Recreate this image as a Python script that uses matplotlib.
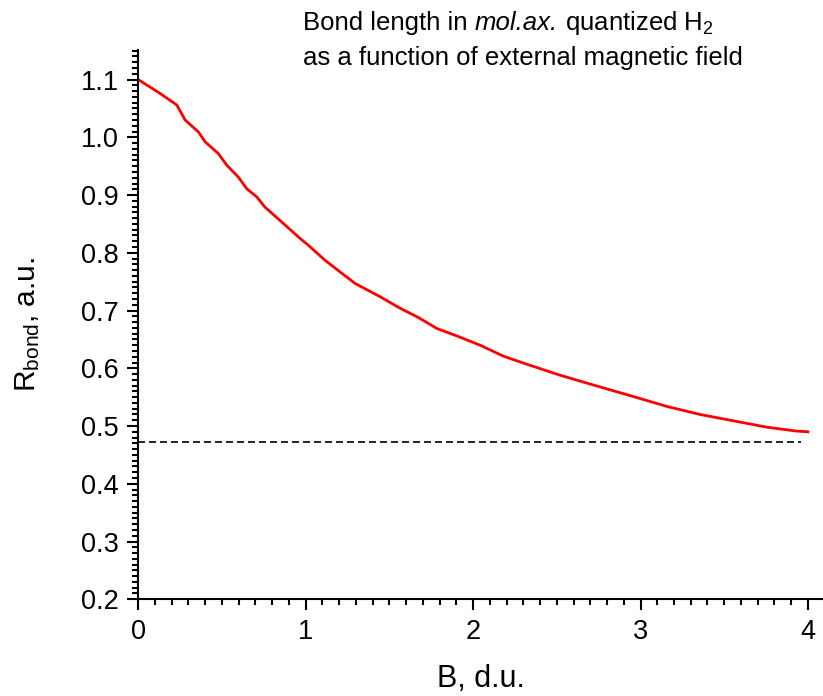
import numpy as np
import matplotlib.pyplot as plt
from matplotlib.ticker import MultipleLocator

plt.rcParams['font.family'] = ['Liberation Sans', 'DejaVu Sans']
plt.rcParams['mathtext.fontset'] = 'custom'
plt.rcParams['mathtext.rm'] = 'Liberation Sans'
plt.rcParams['mathtext.it'] = 'Liberation Sans:italic'

# Bond length vs. magnetic field
B = [0.0, 0.13, 0.23, 0.28, 0.36, 0.40, 0.478, 0.528, 0.598, 0.648, 0.707,
     0.757, 0.866, 0.966, 1.016, 1.116, 1.205, 1.295, 1.444, 1.564, 1.673,
     1.783, 1.903, 2.042, 2.181, 2.321, 2.52, 2.719, 2.958, 3.157, 3.356,
     3.555, 3.755, 3.924, 4.0]
R_bond = [1.100, 1.076, 1.056, 1.030, 1.009, 0.992, 0.972, 0.952, 0.931, 0.911, 0.897,
          0.879, 0.851, 0.825, 0.813, 0.787, 0.767, 0.747, 0.724, 0.704, 0.688,
          0.669, 0.656, 0.640, 0.621, 0.607, 0.588, 0.571, 0.551, 0.534, 0.520,
          0.509, 0.498, 0.4915, 0.490]
R_limit = 0.472
B_limit_end = 3.96

fig = plt.figure(figsize=(8.23, 6.96), dpi=100)
ax = fig.add_axes([0.168, 0.139, 0.832, 0.789])

ax.plot(B, R_bond, color='red', lw=2.0)
ax.plot([0, B_limit_end], [R_limit, R_limit], color='black', lw=1.2, dashes=(4.2, 2.4))

ax.set_xlim(0, 4.09)
ax.set_ylim(0.2, 1.151)
ax.xaxis.set_major_locator(MultipleLocator(1))
ax.xaxis.set_minor_locator(MultipleLocator(0.1))
ax.yaxis.set_major_locator(MultipleLocator(0.1))
ax.yaxis.set_minor_locator(MultipleLocator(0.01))
ax.yaxis.set_major_formatter(plt.FormatStrFormatter('%.1f'))

for s in ['top', 'right']:
    ax.spines[s].set_visible(False)
for s in ['left', 'bottom']:
    ax.spines[s].set_linewidth(1.5)
ax.tick_params(which='major', length=8, width=1.5, labelsize=19.5, pad=6)
ax.tick_params(which='minor', length=4, width=1.5)

ax.set_xlabel('B, d.u.', fontsize=22, labelpad=14)
ax.set_ylabel(r'R$_{\mathrm{bond}}$, a.u.', fontsize=21.5, labelpad=28)

# title drawn in pieces so the italic part keeps normal spacing
fs = 18.5
x0 = 0.368
y1 = 1 - 30 / 696
y2 = 1 - 65 / 696
renderer = fig.canvas.get_renderer()
x = x0
for piece, style in [('Bond length in ', 'normal'), ('mol.ax.', 'italic'),
                     (' quantized H$_2$', 'normal')]:
    t = fig.text(x, y1, piece, fontsize=fs, style=style, ha='left', va='baseline')
    x += t.get_window_extent(renderer).width / fig.bbox.width
fig.text(x0, y2, 'as a function of external magnetic field',
         fontsize=fs, ha='left', va='baseline')

fig.savefig('out.png', dpi=100)
